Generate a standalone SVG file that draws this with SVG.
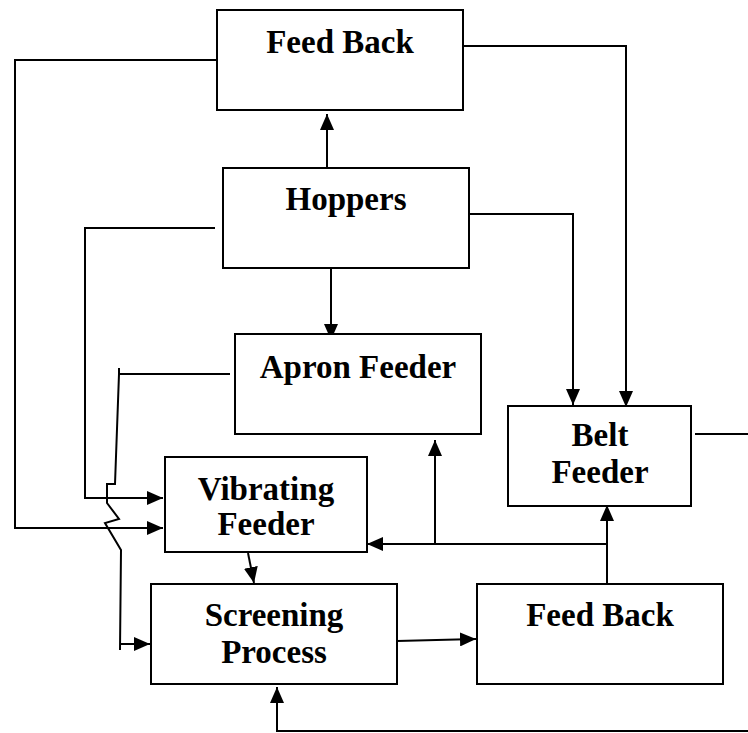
<svg xmlns="http://www.w3.org/2000/svg" width="748" height="733" viewBox="0 0 748 733">
<style>
.box{fill:#fff;stroke:#000;stroke-width:2}
.t{font-family:"Liberation Serif","Times New Roman",serif;font-weight:bold;font-size:33px;text-anchor:middle;fill:#000}
.c{fill:none;stroke:#000;stroke-width:2}
.a{marker-end:url(#arr)}
</style>
<defs>
<marker id="arr" markerUnits="userSpaceOnUse" markerWidth="16" markerHeight="14" refX="16" refY="7" orient="auto">
<path d="M0,0 L16,7 L0,14 z" fill="#000"/>
</marker>
</defs>
<rect width="748" height="733" fill="#fff"/>
<g id="connectors">
<path class="c a" d="M327,168 V114"/>
<path class="c a" d="M331,267 V340"/>
<path class="c a" d="M463,46 H626 V407"/>
<path class="c a" d="M469,214 H573 V405"/>
<path class="c a" d="M215,228 H85 V498 H163"/>
<path class="c a" d="M217,60 H15 V528 H163"/>
<path class="c" d="M230,374 H119 M119,368 L119,374 L115,484 L107,484 L107,503 L119,519 L105,523 L121,550 L120,650"/>
<path class="c a" d="M120,644 H150"/>
<path class="c a" d="M248,553 L254,583"/>
<path class="c a" d="M397,641 L476,639"/>
<path class="c a" d="M607,584 V505"/>
<path class="c a" d="M607,544 H367"/>
<path class="c a" d="M435,544 V440"/>
<path class="c" d="M695,434 H748"/>
<path class="c a" d="M748,731 H277 V687"/>
</g>
<g id="feedback-top">
<rect class="box" x="217" y="10" width="246" height="100"/>
<text class="t" x="340" y="53">Feed Back</text>
</g>
<g id="hoppers">
<rect class="box" x="223" y="168" width="246" height="100"/>
<text class="t" x="346" y="210">Hoppers</text>
</g>
<g id="apron-feeder">
<rect class="box" x="235" y="334" width="246" height="100"/>
<text class="t" x="358" y="378">Apron Feeder</text>
</g>
<g id="belt-feeder">
<rect class="box" x="508" y="406" width="183" height="100"/>
<text class="t" x="600" y="446">Belt</text>
<text class="t" x="600" y="483">Feeder</text>
</g>
<g id="vibrating-feeder">
<rect class="box" x="165" y="457" width="202" height="95"/>
<text class="t" x="266" y="500">Vibrating</text>
<text class="t" x="266" y="535">Feeder</text>
</g>
<g id="screening-process">
<rect class="box" x="151" y="584" width="246" height="100"/>
<text class="t" x="274" y="626">Screening</text>
<text class="t" x="274" y="663">Process</text>
</g>
<g id="feedback-bottom">
<rect class="box" x="477" y="584" width="246" height="100"/>
<text class="t" x="600" y="626">Feed Back</text>
</g>
</svg>
